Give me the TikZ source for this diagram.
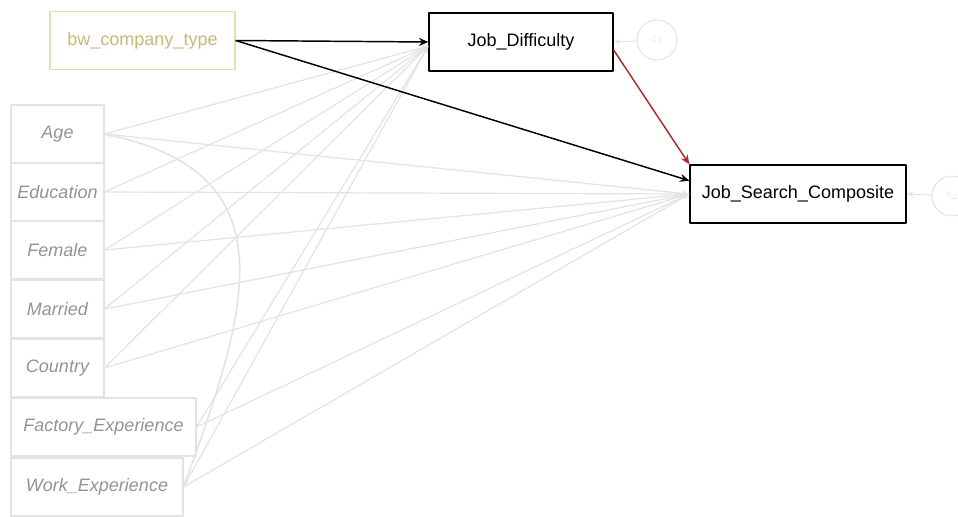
\documentclass[tikz,border=0pt]{standalone}
\usepackage{fontspec}
\setmainfont{Liberation Sans}
\usetikzlibrary{arrows.meta}
\definecolor{pale}{HTML}{E3E3E3}
\definecolor{tan}{HTML}{C9B878}
\definecolor{tanline}{HTML}{E6DDB4}
\definecolor{redarrow}{HTML}{B02A2A}
\tikzset{
  var/.style={draw,line width=1pt,minimum height=43.5pt,inner sep=2pt,font=\fontsize{13.5}{16}\selectfont},
  obs/.style={draw=pale,line width=0.8pt,minimum height=43.5pt,inner sep=2pt,text=gray!85,font=\fontsize{13.5}{16}\selectfont\itshape},
  path/.style={pale,line width=0.9pt,-{Stealth[length=5pt,width=4pt]}},
  err/.style={circle,draw=pale,line width=0.8pt,minimum size=30pt,inner sep=0pt,text=pale,font=\small}
}
\begin{document}
\begin{tikzpicture}[x=0.75pt,y=-0.75pt,line join=round]
\useasboundingbox (0,0) rectangle (958,517);
\clip (0,0) rectangle (958,517);
% exogenous block
\node[var,draw=tanline,text=tan,minimum width=138.75pt] (bw) at (142.5,40.5) {bw\_company\_type};
\node[var,minimum width=138pt] (jd) at (521,42) {Job\_Difficulty};
\node[var,minimum width=162pt] (jsc) at (798,194) {Job\_Search\_Composite};
\foreach \nm/\lab/\yy/\ww in {age/Age/134/93,edu/Education/192/93,fem/Female/250/93,mar/Married/309/93,cou/Country/368/93,fac/Factory\_Experience/427/185,wrk/Work\_Experience/487/172}{
  \node[obs,minimum width=\ww*0.75pt] (\nm) at (11+\ww/2,\yy) {\lab};
}
% controls
\foreach \nm in {age,edu,fem,mar,cou,fac,wrk}{
  \draw[path] (\nm.east) -- ([yshift=-3pt]jd.west);
  \draw[path] (\nm.east) -- (jsc.west);
}
\draw[pale,line width=1.2pt,{Stealth[length=5pt,width=4pt]}-{Stealth[length=5pt,width=4pt]}] (age.east) to[out=-12,in=70,looseness=1.35] (wrk.east);
% errors
\node[err] (e1) at (657,40) {$\varepsilon_1$};
\node[err] (e2) at (952,196) {$\varepsilon_2$};
\draw[path,line width=0.7pt] (e1) -- (jd.east);
\draw[path,line width=0.7pt] (e2) -- (jsc.east);
% main paths
\draw[line width=1.1pt,-{Stealth[length=7pt,width=6pt]}] (bw.east) -- (jd.west);
\draw[line width=1.1pt,-{Stealth[length=7pt,width=6pt]}] (bw.east) -- ([yshift=10pt]jsc.west);
\draw[redarrow,line width=1.1pt,-{Stealth[length=7pt,width=6pt]}] ([yshift=-6pt]jd.east) -- (jsc.north west);
\end{tikzpicture}
\end{document}
